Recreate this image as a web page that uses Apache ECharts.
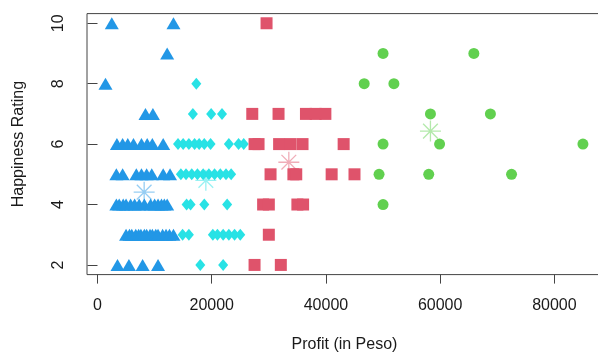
<!DOCTYPE html>
<html>
<head>
<meta charset="utf-8">
<script src="https://cdn.jsdelivr.net/npm/echarts@6/dist/echarts.min.js"></script>
<style>
html,body{margin:0;padding:0;background:#fff;}
#chart{width:598px;height:353px;}
</style>
</head>
<body>
<div id="chart"></div>
<script>
// Cluster 1 (blue triangles)
var blueProfit = [2500, 13300, 12200, 1400, 8400, 9700,
  3400, 4400, 5300, 6300, 7700, 8700, 9600, 11500,
  3300, 4400, 6800, 7700, 8600, 9500, 11500, 12700,
  3300, 3800, 4500, 5000, 5800, 6500, 7300, 8200, 9300, 10000, 10600, 11200, 11700, 12200,
  5000, 5600, 6000, 6700, 7200, 7600, 8200, 8600, 9200, 9600, 10200, 10600, 11400, 12000, 12600, 13300,
  3500, 5500, 7900, 10600];
var blueRating = [10, 10, 9, 8, 7, 7,
  6, 6, 6, 6, 6, 6, 6, 6,
  5, 5, 5, 5, 5, 5, 5, 5,
  4, 4, 4, 4, 4, 4, 4, 4, 4, 4, 4, 4, 4, 4,
  3, 3, 3, 3, 3, 3, 3, 3, 3, 3, 3, 3, 3, 3, 3, 3,
  2, 2, 2, 2];

// Cluster 2 (cyan diamonds)
var cyanProfit = [17300, 16700, 19900, 21800,
  14100, 15000, 16000, 17000, 17800, 18700, 19800, 23000, 24700, 25600,
  14600, 15500, 16500, 17500, 18500, 19500, 20500, 21500, 22500, 23400,
  15600, 16300, 18700, 22700,
  14900, 16000, 20200, 21000, 22000, 23000, 24000, 25000,
  18000, 22000];
var cyanRating = [8, 7, 7, 7,
  6, 6, 6, 6, 6, 6, 6, 6, 6, 6,
  5, 5, 5, 5, 5, 5, 5, 5, 5, 5,
  4, 4, 4, 4,
  3, 3, 3, 3, 3, 3, 3, 3,
  2, 2];

// Cluster 3 (red squares)
var redProfit = [29600,
  27100, 31700, 36500, 38200, 39900,
  27500, 28200, 31800, 33800, 35900, 43100,
  30300, 34300, 34800, 41000, 45000,
  29000, 30000, 35000, 36000,
  30000,
  27500, 32100];
var redRating = [10,
  7, 7, 7, 7, 7,
  6, 6, 6, 6, 6, 6,
  5, 5, 5, 5, 5,
  4, 4, 4, 4,
  3,
  2, 2];

// Cluster 4 (green circles)
var greenProfit = [50000, 65900, 46700, 51900, 58300, 68800, 50000, 59900, 85000, 49300, 58000, 72500, 50000];
var greenRating = [9, 9, 8, 8, 7, 7, 6, 6, 6, 5, 5, 5, 4];

// Cluster centres (asterisks): blue, cyan, red, green
var centerProfit = [8170, 18970, 33500, 58300];
var centerRating = [4.41, 4.8, 5.4, 6.43];

var xTicks = [0, 20000, 40000, 60000, 80000];
var yTicks = [2, 4, 6, 8, 10];

function zip(a, b) { return a.map(function (v, i) { return [v, b[i]]; }); }

var colBlue = '#2297E6', colCyan = '#28E2E5', colRed = '#DF536B', colGreen = '#61D04F';
var starCols = ['rgba(34,151,230,0.6)', 'rgba(40,226,229,0.6)', 'rgba(223,83,107,0.6)', 'rgba(97,208,79,0.6)'];
var starPath = 'path://M10 0 L10 20 M0 10 L20 10 M3 3 L17 17 M3 17 L17 3';

var font = '"Liberation Sans", Arial, sans-serif';
var chart = echarts.init(document.getElementById('chart'), null, {renderer: 'canvas'});

var starSeries = centerProfit.map(function (x, i) {
  return {
    type: 'scatter', symbol: starPath, symbolSize: 21, z: 5,
    itemStyle: {color: 'transparent', borderColor: starCols[i], borderWidth: 1.3},
    data: [[x, centerRating[i]]], animation: false, silent: true
  };
});

chart.setOption({
  animation: false,
  backgroundColor: '#fff',
  grid: {left: 87, top: 13.6, width: 515, height: 261, show: true, borderColor: '#444', borderWidth: 1,
    backgroundColor: 'transparent', containLabel: false, outerBoundsMode: 'none'},
  xAxis: {
    type: 'value', min: -1840, max: 88340,
    name: 'Profit (in Peso)', nameLocation: 'middle', nameGap: 62,
    nameTextStyle: {fontFamily: font, fontSize: 16, color: '#1a1a1a'},
    axisLine: {show: false},
    axisTick: {show: true, inside: false, length: 9, customValues: xTicks, lineStyle: {color: '#444', width: 1}},
    axisLabel: {customValues: xTicks, margin: 23, fontFamily: font, fontSize: 16, color: '#1a1a1a',
      formatter: function (v) { return String(v); }},
    splitLine: {show: false}
  },
  yAxis: {
    type: 'value', min: 1.68, max: 10.32,
    name: 'Happiness Rating', nameLocation: 'middle', nameGap: 60,
    nameTextStyle: {fontFamily: font, fontSize: 16, color: '#1a1a1a'},
    axisLine: {show: false},
    axisTick: {show: true, inside: false, length: 10, customValues: yTicks, lineStyle: {color: '#444', width: 1}},
    axisLabel: {customValues: yTicks, rotate: 90, margin: 20, fontFamily: font, fontSize: 16, color: '#1a1a1a',
      formatter: function (v) { return String(v); }},
    splitLine: {show: false}
  },
  series: [
    {type: 'scatter', symbol: 'diamond', symbolSize: [10, 12], itemStyle: {color: colCyan, opacity: 1}, data: zip(cyanProfit, cyanRating), z: 2},
    {type: 'scatter', symbol: 'triangle', symbolSize: [14, 12], itemStyle: {color: colBlue, opacity: 1}, data: zip(blueProfit, blueRating), z: 2},
    {type: 'scatter', symbol: 'rect', symbolSize: 12, itemStyle: {color: colRed, opacity: 1}, data: zip(redProfit, redRating), z: 2},
    {type: 'scatter', symbol: 'circle', symbolSize: 11, itemStyle: {color: colGreen, opacity: 1}, data: zip(greenProfit, greenRating), z: 2}
  ].concat(starSeries)
});
</script>
</body>
</html>
